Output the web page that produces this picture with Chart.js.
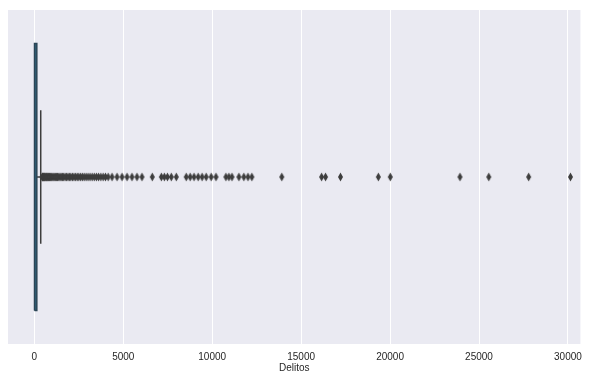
<!DOCTYPE html>
<html>
<head>
<meta charset="utf-8">
<script src="https://cdn.jsdelivr.net/npm/chart.js@4"></script>
<style>
  html, body { margin: 0; padding: 0; background: #fff; }
  #wrap { width: 589px; height: 371px; }
</style>
</head>
<body>
<div id="wrap"><canvas id="grafico"></canvas></div>
<script>
// ticks do eixo x
const ticksX = [0, 5000, 10000, 15000, 20000, 25000, 30000];

// estatísticas do boxplot
const q1 = 10;
const mediana = 50;
const q3 = 140;
const bigoteMin = 0;
const bigoteMax = 360;

// outliers (Delitos)
const outliers = [
  440, 460, 490, 520, 545, 580, 610, 650, 690, 720, 760, 800, 850, 900, 950,
  1000, 1060, 1120, 1180, 1240, 1300, 1370, 1440, 1510, 1580, 1650, 1730, 1810,
  1890, 1970, 2050, 2140, 2230, 2320, 2410, 2500, 2600, 2700, 2800, 2910, 3020,
  3130, 3250, 3370, 3490, 3610, 3740, 3870, 4000, 4150, 4370, 4650, 4930, 5210,
  5490, 5770, 6050, 6630, 7140, 7310, 7480, 7700, 7980, 8540, 8760, 8980, 9210,
  9430, 9660, 9940, 10210, 10770, 10940, 11110, 11500, 11780, 12010, 12230,
  13910, 16150, 16370, 17210, 19340, 20010, 23930, 25550, 27790, 30140
];

const cores = {
  fundo: "#eaeaf2",
  grade: "#ffffff",
  caixa: "#2f6079",
  linha: "#3d3d3d",
  texto: "#262626"
};

// marcador losango fino (estilo 'd' do matplotlib)
function criarLosango() {
  const c = document.createElement("canvas");
  c.width = 7; c.height = 10;
  const g = c.getContext("2d");
  g.fillStyle = cores.linha;
  g.beginPath();
  g.moveTo(3.5, 0.5); g.lineTo(6, 5); g.lineTo(3.5, 9.5); g.lineTo(1, 5);
  g.closePath();
  g.fill();
  return c;
}

const fundoPlugin = {
  id: "fundo",
  beforeDraw(chart) {
    const { ctx, chartArea: a } = chart;
    ctx.save();
    ctx.fillStyle = cores.fundo;
    ctx.fillRect(a.left, a.top, a.right - a.left, a.bottom - a.top);
    ctx.restore();
  }
};

const linha = (pts, extra) => Object.assign({
  data: pts,
  showLine: true,
  borderColor: cores.linha,
  borderWidth: 1.5,
  pointRadius: 0,
  fill: false
}, extra || {});

new Chart(document.getElementById("grafico"), {
  type: "scatter",
  data: {
    datasets: [
      linha([{x: q1, y: -0.4}, {x: q3, y: -0.4}, {x: q3, y: 0.4}, {x: q1, y: 0.4}, {x: q1, y: -0.4}],
        { fill: "shape", backgroundColor: cores.caixa, borderColor: "#2b4556" }),
      linha([{x: mediana, y: -0.4}, {x: mediana, y: 0.4}], { borderColor: "#2b4556", borderWidth: 1 }),
      linha([{x: q3, y: 0}, {x: bigoteMax, y: 0}]),
      linha([{x: bigoteMin, y: 0}, {x: q1, y: 0}]),
      linha([{x: bigoteMax, y: -0.2}, {x: bigoteMax, y: 0.2}]),
      linha([{x: bigoteMin, y: -0.2}, {x: bigoteMin, y: 0.2}], { borderWidth: 0 }),
      {
        data: outliers.map(v => ({ x: v, y: 0 })),
        pointStyle: criarLosango(),
        pointRadius: 4,
        showLine: false
      }
    ]
  },
  options: {
    responsive: true,
    maintainAspectRatio: false,
    animation: false,
    layout: { padding: { left: 8, right: 6, top: 10, bottom: 0 } },
    plugins: {
      legend: { display: false },
      tooltip: { enabled: false }
    },
    scales: {
      x: {
        type: "linear",
        min: -1480,
        max: 30700,
        afterBuildTicks: s => { s.ticks = ticksX.map(v => ({ value: v })); },
        grid: { color: cores.grade, lineWidth: 1, drawTicks: false },
        border: { display: false },
        ticks: {
          color: cores.texto,
          padding: 7,
          callback: v => String(v),
          font: { family: "'Liberation Sans', Arial, sans-serif", size: 10 }
        },
        title: {
          display: true,
          text: "Delitos",
          color: cores.texto,
          padding: { top: -8, bottom: -3 },
          font: { family: "'Liberation Sans', Arial, sans-serif", size: 10 }
        }
      },
      y: {
        type: "linear",
        min: -0.5,
        max: 0.5,
        display: false
      }
    }
  },
  plugins: [fundoPlugin]
});
</script>
</body>
</html>
